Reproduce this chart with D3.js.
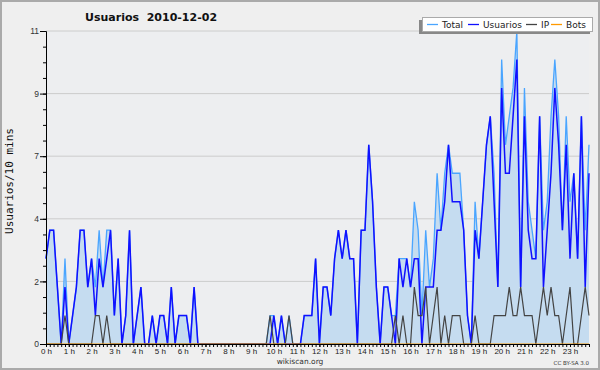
<!DOCTYPE html>
<html>
<head>
<meta charset="utf-8">
<script src="https://cdn.jsdelivr.net/npm/d3@7/dist/d3.min.js"></script>
<style>
body { margin: 0; background: #efefef; }
svg { display: block; font-family: "DejaVu Sans", sans-serif; }
</style>
</head>
<body>
<svg width="600" height="370"></svg>
<script>
// one value per 10 minutes, 6 per hour
const total = [
    3,4,4,2,0,3,  0,1,2,4,4,2,  3,2,4,2,4,4,  1,3,0,1,4,0,
    1,2,0,0,1,0,  1,1,0,2,0,1,  1,1,0,2,0,0,  0,0,0,0,0,0,
    0,0,0,0,0,0,  0,0,0,0,0,1,  1,0,1,0,1,0,  0,0,1,1,1,3,
    0,2,2,1,3,4,  3,4,3,3,0,4,  4,7,5,2,0,2,  2,1,1,3,3,3,
    2,5,4,1,4,2,  3,6,4,6,7,6,  6,6,4,1,0,5,  3,5,7,8,6,2,
    10,7,8,9,11,2, 9,5,4,3,8,4, 5,8,10,8,4,8, 5,6,3,8,4,7
];
const usuarios = [
    3,4,4,2,0,2,  0,1,2,4,4,2,  3,1,3,2,3,4,  1,3,0,1,4,0,
    1,2,0,0,1,0,  1,1,0,2,0,1,  1,1,0,2,0,0,  0,0,0,0,0,0,
    0,0,0,0,0,0,  0,0,0,0,0,0,  1,0,1,0,0,0,  0,0,1,1,1,3,
    0,2,2,1,3,4,  3,4,3,3,0,4,  4,7,5,2,0,2,  2,1,0,3,2,3,
    2,3,3,0,2,2,  2,4,4,5,7,5,  5,5,4,1,0,4,  3,5,7,8,5,2,
    9,6,6,8,10,2, 8,4,3,3,8,2,  4,6,9,7,4,7,  3,6,3,8,2,6
];
const ip = [
    0,0,0,0,0,1,  0,0,0,0,0,0,  0,1,1,0,1,0,  0,0,0,0,0,0,
    0,0,0,0,0,0,  0,0,0,0,0,0,  0,0,0,0,0,0,  0,0,0,0,0,0,
    0,0,0,0,0,0,  0,0,0,0,0,1,  0,0,0,0,1,0,  0,0,0,0,0,0,
    0,0,0,0,0,0,  0,0,0,0,0,0,  0,0,0,0,0,0,  0,0,1,0,1,0,
    0,2,1,1,2,0,  1,2,0,1,0,1,  1,1,0,0,0,1,  0,0,0,0,1,1,
    1,1,2,1,1,2,  1,1,1,0,1,2,  1,2,1,1,0,1,  2,0,0,1,2,1
];
const bots = [
    0,0,0,0,0,0,  0,0,0,0,0,0,  0,0,0,0,0,0,  0,0,0,0,0,0,
    0,0,0,0,0,0,  0,0,0,0,0,0,  0,0,0,0,0,0,  0,0,0,0,0,0,
    0,0,0,0,0,0,  0,0,0,0,0,0,  0,0,0,0,0,0,  0,0,0,0,0,0,
    0,0,0,0,0,0,  0,0,0,0,0,0,  0,0,0,0,0,0,  0,0,0,0,0,0,
    0,0,0,0,0,0,  0,0,0,0,0,0,  0,0,0,0,0,0,  0,0,0,0,0,0,
    0,0,0,0,0,0,  0,0,0,0,0,0,  0,0,0,0,0,0,  0,0,0,0,0,0
];
const hourLabels = ["0 h","1 h","2 h","3 h","4 h","5 h","6 h","7 h","8 h","9 h","10 h","11 h",
    "12 h","13 h","14 h","15 h","16 h","17 h","18 h","19 h","20 h","21 h","22 h","23 h"];
const yTickLabels = ["0","2","4","7","9","11"];
const yMax = 11;

const series = [
    {name: "Total", values: total, color: "#4aa5ff", width: 1.3},
    {name: "Usuarios", values: usuarios, color: "#1010ff", width: 1.5},
    {name: "IP", values: ip, color: "#444444", width: 1.2},
    {name: "Bots", values: bots, color: "#ff9900", width: 1.2}
];

function draw() {
    let svg = d3.select("svg");
    let margin = {top: 31, right: 11, bottom: 26, left: 46};
    let width = 600 - margin.left - margin.right;
    let height = 370 - margin.top - margin.bottom;

    // frame
    svg.append("rect")
        .attr("x", 1).attr("y", 1).attr("width", 598).attr("height", 368)
        .attr("fill", "#efefef").attr("stroke", "#aaaaaa").attr("stroke-width", 2);

    let g = svg.append("g").attr("transform", `translate(${margin.left},${margin.top})`);

    g.append("rect")
        .attr("width", width).attr("height", height)
        .attr("fill", "#edeef0");

    let x = d3.scaleLinear().domain([0, total.length - 1]).range([0, width]);
    let y = d3.scaleLinear().domain([0, yMax]).range([height, 0]);

    let majorY = d3.range(0, yTickLabels.length).map(i => i * yMax / (yTickLabels.length - 1));
    let minorY = d3.range(0, 21).map(i => i * yMax / 20);

    // gridlines
    g.append("g")
        .selectAll("line")
        .data(majorY.slice(1))
        .join("line")
        .attr("x1", 0).attr("x2", width)
        .attr("y1", d => y(d)).attr("y2", d => y(d))
        .attr("stroke", "#cccccc").attr("stroke-width", 1);

    // area under total
    g.append("path")
        .datum(total)
        .attr("fill", "#c5dcf0")
        .attr("d", d3.area().x((d, i) => x(i)).y0(height).y1(d => y(d)));

    let line = d3.line().x((d, i) => x(i)).y(d => y(d));
    for (let s of series) {
        g.append("path")
            .datum(s.values)
            .attr("fill", "none")
            .attr("stroke", s.color)
            .attr("stroke-width", s.width)
            .attr("stroke-linejoin", "miter")
            .attr("d", line);
    }

    // y axis
    let yAxis = g.append("g")
        .call(d3.axisLeft(y).tickValues(majorY).tickSize(6).tickSizeOuter(0).tickPadding(1)
            .tickFormat((d, i) => yTickLabels[i]));
    g.append("g")
        .call(d3.axisLeft(y).tickValues(minorY).tickSize(3).tickSizeOuter(0).tickFormat(""));
    yAxis.selectAll("text").attr("fill", "#333").style("font-size", "8.5px");

    // x axis
    g.append("g")
        .attr("transform", `translate(0,${height})`)
        .call(d3.axisBottom(x).tickValues(d3.range(0, total.length)).tickSize(3).tickSizeOuter(0).tickFormat(""));
    let xAxis = g.append("g")
        .attr("transform", `translate(0,${height})`)
        .call(d3.axisBottom(x).tickValues(d3.range(0, total.length, 6)).tickSize(3).tickSizeOuter(0).tickPadding(1)
            .tickFormat((d, i) => hourLabels[i]));
    xAxis.selectAll("text").attr("fill", "#222").style("font-size", "8px");
    svg.selectAll(".domain, .tick line").attr("stroke", "#000");

    // titles
    svg.append("text")
        .attr("x", 85).attr("y", 21)
        .style("font-size", "11px").style("font-weight", "bold").style("white-space", "pre")
        .attr("fill", "#111")
        .text("Usuarios  2010-12-02");

    svg.append("text")
        .attr("transform", "translate(13,181) rotate(-90)")
        .attr("text-anchor", "middle")
        .style("font-family", "DejaVu Sans Mono, monospace").style("font-size", "11px")
        .attr("fill", "#111")
        .text("Usuarios/10 mins");

    svg.append("text")
        .attr("x", 300).attr("y", 364).attr("text-anchor", "middle")
        .style("font-size", "7.5px").attr("fill", "#333")
        .text("wikiscan.org");

    svg.append("text")
        .attr("x", 589).attr("y", 365).attr("text-anchor", "end")
        .style("font-size", "5.5px").attr("fill", "#333")
        .text("CC BY-SA 3.0");

    // legend
    let legend = svg.append("g");
    legend.append("rect")
        .attr("x", 419).attr("y", 20).attr("width", 171).attr("height", 14)
        .attr("fill", "#888888");
    legend.append("rect")
        .attr("x", 422.5).attr("y", 17.5).attr("width", 170).attr("height", 14)
        .attr("fill", "#ffffff").attr("stroke", "#aaaaaa").attr("stroke-width", 1);
    let legendX = [427, 468, 526, 551];
    let item = legend.selectAll("g.item")
        .data(series)
        .join("g")
        .attr("class", "item")
        .attr("transform", (d, i) => `translate(${legendX[i]},24.5)`);
    item.append("line")
        .attr("x1", 0).attr("x2", 11)
        .attr("stroke", d => d.color).attr("stroke-width", 1.3);
    item.append("text")
        .attr("x", 15).attr("y", 3.5)
        .style("font-size", "9px").attr("fill", "#222")
        .text(d => d.name);
}

draw();
</script>
</body>
</html>
